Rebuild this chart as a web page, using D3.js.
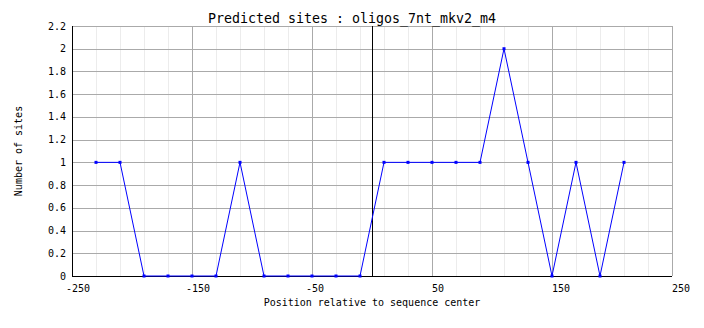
<!DOCTYPE html>
<html>
<head>
<meta charset="utf-8">
<script src="https://cdn.jsdelivr.net/npm/d3@7"></script>
<style>
  body { margin: 0; background: #fff; }
  text { font-family: "DejaVu Sans Mono", monospace; fill: #000; }
</style>
</head>
<body>
<div id="chart"></div>
<script>
// Data
const positions = [-230, -210, -190, -170, -150, -130, -110, -90, -70, -50, -30, -10,
                   10, 30, 50, 70, 90, 110, 130, 150, 170, 190, 210];
const sites = [1, 1, 0, 0, 0, 0, 1, 0, 0, 0, 0, 0,
               1, 1, 1, 1, 1, 2, 1, 0, 1, 0, 1];
const xTicks = [-250, -150, -50, 50, 150, 250];
const yTicks = [0, 0.2, 0.4, 0.6, 0.8, 1, 1.2, 1.4, 1.6, 1.8, 2, 2.2];

const width = 704,
      height = 328;
const margin = { top: 26, right: 32, bottom: 52, left: 72 };

const x = d3.scaleLinear()
    .domain([-250, 250])
    .range([margin.left, width - margin.right]);

const y = d3.scaleLinear()
    .domain([0, 2.2])
    .range([height - margin.bottom, margin.top]);

const svg = d3.select("#chart")
  .append("svg")
    .attr("width", width)
    .attr("height", height);

// Minor vertical grid every 20
svg.append("g")
  .selectAll("line")
  .data(d3.range(-230, 250, 20))
  .enter()
  .append("line")
    .attr("x1", d => Math.round(x(d)) + 0.5)
    .attr("x2", d => Math.round(x(d)) + 0.5)
    .attr("y1", y(2.2))
    .attr("y2", y(0))
    .attr("stroke", "#ececec");

// Major vertical grid
svg.append("g")
  .selectAll("line")
  .data(xTicks.slice(1))
  .enter()
  .append("line")
    .attr("x1", d => Math.round(x(d)) + 0.5)
    .attr("x2", d => Math.round(x(d)) + 0.5)
    .attr("y1", y(2.2))
    .attr("y2", y(0))
    .attr("stroke", "#aaaaaa");

// Horizontal grid
svg.append("g")
  .selectAll("line")
  .data(yTicks.slice(1))
  .enter()
  .append("line")
    .attr("x1", x(-250))
    .attr("x2", x(250))
    .attr("y1", d => Math.round(y(d)) + 0.5)
    .attr("y2", d => Math.round(y(d)) + 0.5)
    .attr("stroke", "#aaaaaa");

// Center line
svg.append("line")
    .attr("x1", Math.round(x(0)) + 0.5)
    .attr("x2", Math.round(x(0)) + 0.5)
    .attr("y1", y(2.2))
    .attr("y2", y(0))
    .attr("stroke", "#000");

// Axes lines
svg.append("line")
    .attr("x1", x(-250) + 0.5)
    .attr("x2", x(-250) + 0.5)
    .attr("y1", y(2.2))
    .attr("y2", y(0) + 0.5)
    .attr("stroke", "#000");
svg.append("line")
    .attr("x1", x(-250))
    .attr("x2", x(250))
    .attr("y1", Math.round(y(0)) + 0.5)
    .attr("y2", Math.round(y(0)) + 0.5)
    .attr("stroke", "#000");

// Y tick labels
svg.append("g")
    .attr("text-anchor", "end")
    .style("font-size", "10px")
  .selectAll("text")
  .data(yTicks)
  .enter()
  .append("text")
    .attr("x", margin.left - 6)
    .attr("y", d => y(d))
    .attr("dy", "0.35em")
    .text(d => d3.format("~g")(d));

// X tick labels (digits start at tick, minus sign hangs left)
svg.append("g")
    .attr("text-anchor", "start")
    .style("font-size", "10px")
  .selectAll("text")
  .data(xTicks)
  .enter()
  .append("text")
    .attr("x", d => x(d) - (d < 0 ? 6 : 0))
    .attr("y", y(0) + 16)
    .text(d => d);

// Line
const line = d3.line()
    .x((d, i) => x(positions[i]))
    .y(d => y(d));

svg.append("path")
    .datum(sites)
    .attr("fill", "none")
    .attr("stroke", "#0000ff")
    .attr("stroke-width", 1)
    .attr("d", line);

// Markers
svg.append("g")
  .selectAll("rect")
  .data(sites)
  .enter()
  .append("rect")
    .attr("x", (d, i) => x(positions[i]) - 1.5)
    .attr("y", d => y(d) - 1.5)
    .attr("width", 3)
    .attr("height", 3)
    .attr("fill", "#0000ff");

// Title, centred on the whole image
svg.append("text")
    .attr("x", width / 2)
    .attr("y", 23)
    .attr("text-anchor", "middle")
    .style("font-size", "13.3px")
    .text("Predicted sites : oligos_7nt_mkv2_m4");

// Axis titles
svg.append("text")
    .attr("x", x(0))
    .attr("y", 306)
    .attr("text-anchor", "middle")
    .style("font-size", "10px")
    .text("Position relative to sequence center");

svg.append("text")
    .attr("transform", `translate(22, ${y(1.1)}) rotate(-90)`)
    .attr("text-anchor", "middle")
    .style("font-size", "10px")
    .text("Number of sites");
</script>
</body>
</html>
